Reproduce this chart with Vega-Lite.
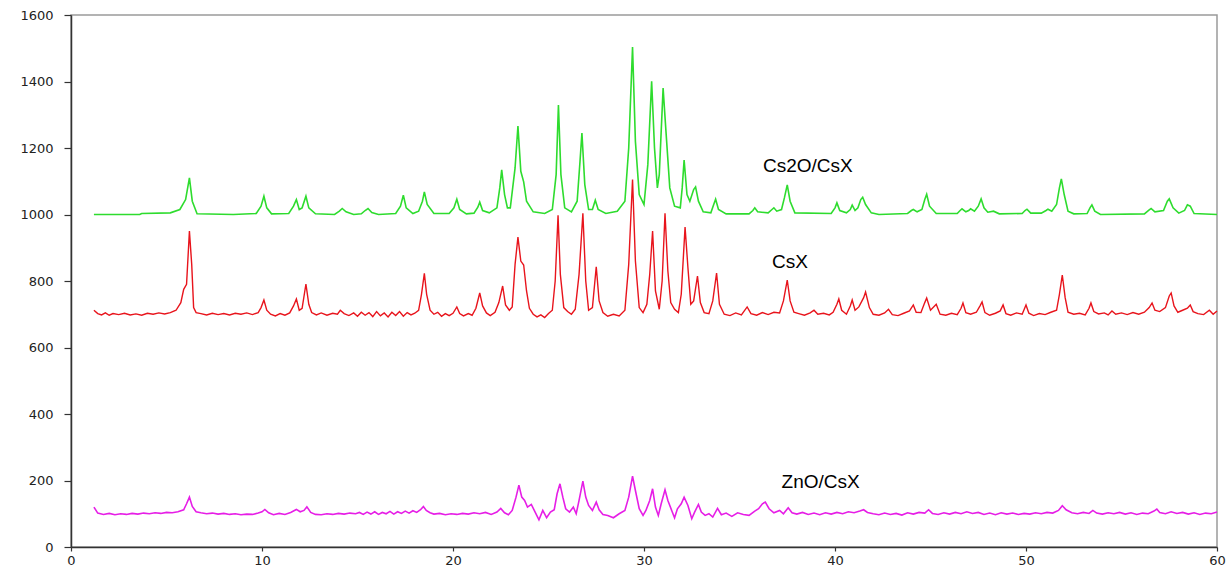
{
  "$schema": "https://vega.github.io/schema/vega-lite/v6.json",
  "width": 1146,
  "height": 532,
  "autosize": {"type": "none"},
  "padding": {"left": 71, "top": 15, "right": 14, "bottom": 22},
  "background": "white",
  "config": {
    "view": {"stroke": "#9a9a9a", "strokeWidth": 1.5},
    "axis": {
      "grid": false,
      "title": null,
      "domainColor": "#333333",
      "domainWidth": 1.5,
      "tickColor": "#333333",
      "tickWidth": 1.2,
      "labelFont": "DejaVu Sans",
      "labelFontSize": 13,
      "labelColor": "#222222",
      "labelFlush": false,
      "labelOverlap": false
    }
  },
  "datasets": {
    "green": [
      {"x":1.2,"y":1000},{"x":3.6,"y":1000},{"x":3.7,"y":1003},{"x":5.2,"y":1005},{"x":5.7,"y":1015},{"x":6.0,"y":1045},{"x":6.2,"y":1110},{"x":6.35,"y":1040},{"x":6.6,"y":1002},{"x":8.5,"y":1000},{"x":9.7,"y":1003},{"x":9.95,"y":1025},{"x":10.1,"y":1055},{"x":10.25,"y":1020},{"x":10.5,"y":1002},{"x":11.4,"y":1003},{"x":11.65,"y":1025},{"x":11.8,"y":1045},{"x":11.95,"y":1015},{"x":12.1,"y":1020},{"x":12.3,"y":1055},{"x":12.45,"y":1020},{"x":12.8,"y":1002},{"x":13.8,"y":1000},{"x":14.05,"y":1010},{"x":14.2,"y":1018},{"x":14.4,"y":1008},{"x":14.8,"y":1000},{"x":15.2,"y":1002},{"x":15.4,"y":1012},{"x":15.55,"y":1018},{"x":15.75,"y":1006},{"x":16.1,"y":1000},{"x":17.0,"y":1003},{"x":17.25,"y":1025},{"x":17.4,"y":1058},{"x":17.55,"y":1020},{"x":17.9,"y":1003},{"x":18.2,"y":1010},{"x":18.4,"y":1040},{"x":18.5,"y":1068},{"x":18.65,"y":1030},{"x":19.0,"y":1003},{"x":19.8,"y":1003},{"x":20.05,"y":1020},{"x":20.2,"y":1046},{"x":20.35,"y":1015},{"x":20.7,"y":1002},{"x":21.1,"y":1004},{"x":21.3,"y":1022},{"x":21.4,"y":1037},{"x":21.55,"y":1012},{"x":21.9,"y":1005},{"x":22.3,"y":1020},{"x":22.45,"y":1080},{"x":22.55,"y":1134},{"x":22.7,"y":1060},{"x":22.85,"y":1020},{"x":23.0,"y":1020},{"x":23.25,"y":1140},{"x":23.4,"y":1266},{"x":23.55,"y":1130},{"x":23.7,"y":1098},{"x":23.85,"y":1040},{"x":24.2,"y":1008},{"x":24.8,"y":1003},{"x":25.2,"y":1015},{"x":25.4,"y":1120},{"x":25.52,"y":1329},{"x":25.65,"y":1120},{"x":25.85,"y":1020},{"x":26.2,"y":1008},{"x":26.5,"y":1040},{"x":26.65,"y":1160},{"x":26.75,"y":1245},{"x":26.9,"y":1090},{"x":27.1,"y":1015},{"x":27.3,"y":1015},{"x":27.45,"y":1043},{"x":27.6,"y":1015},{"x":28.0,"y":1003},{"x":28.6,"y":1010},{"x":29.0,"y":1040},{"x":29.2,"y":1200},{"x":29.4,"y":1504},{"x":29.55,"y":1220},{"x":29.75,"y":1060},{"x":30.0,"y":1030},{"x":30.2,"y":1150},{"x":30.4,"y":1401},{"x":30.55,"y":1200},{"x":30.7,"y":1080},{"x":30.8,"y":1120},{"x":31.0,"y":1380},{"x":31.15,"y":1250},{"x":31.35,"y":1080},{"x":31.6,"y":1025},{"x":31.9,"y":1020},{"x":32.0,"y":1080},{"x":32.1,"y":1164},{"x":32.25,"y":1060},{"x":32.4,"y":1040},{"x":32.6,"y":1075},{"x":32.7,"y":1083},{"x":32.85,"y":1040},{"x":33.1,"y":1008},{"x":33.5,"y":1005},{"x":33.65,"y":1030},{"x":33.75,"y":1046},{"x":33.9,"y":1015},{"x":34.3,"y":1002},{"x":35.5,"y":1002},{"x":35.7,"y":1012},{"x":35.8,"y":1020},{"x":35.95,"y":1008},{"x":36.5,"y":1005},{"x":36.7,"y":1015},{"x":36.8,"y":1020},{"x":36.95,"y":1010},{"x":37.2,"y":1015},{"x":37.35,"y":1050},{"x":37.5,"y":1089},{"x":37.65,"y":1040},{"x":37.9,"y":1005},{"x":39.8,"y":1003},{"x":40.0,"y":1020},{"x":40.1,"y":1035},{"x":40.25,"y":1012},{"x":40.6,"y":1005},{"x":40.8,"y":1015},{"x":40.9,"y":1028},{"x":41.05,"y":1012},{"x":41.2,"y":1020},{"x":41.35,"y":1045},{"x":41.45,"y":1052},{"x":41.6,"y":1030},{"x":41.9,"y":1005},{"x":42.3,"y":1000},{"x":43.8,"y":1003},{"x":44.0,"y":1012},{"x":44.1,"y":1015},{"x":44.3,"y":1008},{"x":44.55,"y":1015},{"x":44.7,"y":1045},{"x":44.8,"y":1061},{"x":44.95,"y":1025},{"x":45.3,"y":1003},{"x":46.4,"y":1003},{"x":46.55,"y":1012},{"x":46.65,"y":1017},{"x":46.85,"y":1008},{"x":47.0,"y":1012},{"x":47.1,"y":1017},{"x":47.3,"y":1010},{"x":47.5,"y":1025},{"x":47.65,"y":1047},{"x":47.8,"y":1020},{"x":48.0,"y":1007},{"x":48.3,"y":1010},{"x":48.6,"y":1002},{"x":49.8,"y":1003},{"x":49.95,"y":1012},{"x":50.05,"y":1016},{"x":50.25,"y":1004},{"x":50.8,"y":1004},{"x":51.05,"y":1012},{"x":51.15,"y":1016},{"x":51.35,"y":1010},{"x":51.6,"y":1030},{"x":51.75,"y":1080},{"x":51.85,"y":1107},{"x":52.0,"y":1060},{"x":52.2,"y":1010},{"x":52.5,"y":1002},{"x":53.2,"y":1003},{"x":53.35,"y":1020},{"x":53.45,"y":1029},{"x":53.6,"y":1010},{"x":53.9,"y":1000},{"x":56.2,"y":1002},{"x":56.45,"y":1014},{"x":56.55,"y":1018},{"x":56.75,"y":1008},{"x":57.2,"y":1012},{"x":57.4,"y":1040},{"x":57.5,"y":1047},{"x":57.7,"y":1020},{"x":58.0,"y":1004},{"x":58.3,"y":1012},{"x":58.45,"y":1029},{"x":58.6,"y":1025},{"x":58.8,"y":1003},{"x":60.0,"y":1000}
    ],
    "red": [
      {"x":1.2,"y":712},{"x":1.4,"y":702},{"x":1.6,"y":698},{"x":1.8,"y":704},{"x":2.0,"y":697},{"x":2.2,"y":702},{"x":2.5,"y":699},{"x":2.8,"y":703},{"x":3.1,"y":698},{"x":3.4,"y":701},{"x":3.7,"y":697},{"x":4.0,"y":703},{"x":4.3,"y":700},{"x":4.6,"y":704},{"x":4.9,"y":701},{"x":5.2,"y":705},{"x":5.5,"y":712},{"x":5.75,"y":735},{"x":5.9,"y":775},{"x":6.05,"y":790},{"x":6.2,"y":950},{"x":6.32,"y":850},{"x":6.42,"y":720},{"x":6.55,"y":705},{"x":6.8,"y":702},{"x":7.1,"y":698},{"x":7.4,"y":703},{"x":7.7,"y":699},{"x":8.0,"y":702},{"x":8.3,"y":698},{"x":8.6,"y":703},{"x":8.9,"y":700},{"x":9.2,"y":704},{"x":9.5,"y":699},{"x":9.8,"y":705},{"x":9.95,"y":720},{"x":10.1,"y":743},{"x":10.25,"y":712},{"x":10.45,"y":700},{"x":10.7,"y":695},{"x":10.95,"y":702},{"x":11.2,"y":697},{"x":11.45,"y":704},{"x":11.65,"y":725},{"x":11.8,"y":746},{"x":11.95,"y":712},{"x":12.1,"y":718},{"x":12.3,"y":791},{"x":12.45,"y":730},{"x":12.6,"y":705},{"x":12.85,"y":698},{"x":13.1,"y":704},{"x":13.4,"y":697},{"x":13.7,"y":703},{"x":13.95,"y":700},{"x":14.1,"y":712},{"x":14.3,"y":702},{"x":14.55,"y":696},{"x":14.8,"y":704},{"x":15.0,"y":694},{"x":15.2,"y":706},{"x":15.4,"y":697},{"x":15.6,"y":705},{"x":15.8,"y":693},{"x":16.0,"y":708},{"x":16.2,"y":695},{"x":16.4,"y":704},{"x":16.6,"y":692},{"x":16.8,"y":706},{"x":17.0,"y":696},{"x":17.2,"y":708},{"x":17.4,"y":694},{"x":17.6,"y":705},{"x":17.8,"y":698},{"x":18.0,"y":703},{"x":18.2,"y":712},{"x":18.35,"y":760},{"x":18.5,"y":823},{"x":18.62,"y":760},{"x":18.8,"y":712},{"x":19.0,"y":700},{"x":19.2,"y":706},{"x":19.4,"y":694},{"x":19.6,"y":702},{"x":19.8,"y":696},{"x":20.0,"y":703},{"x":20.2,"y":722},{"x":20.35,"y":702},{"x":20.55,"y":695},{"x":20.8,"y":702},{"x":21.0,"y":697},{"x":21.2,"y":718},{"x":21.4,"y":764},{"x":21.55,"y":725},{"x":21.75,"y":704},{"x":21.95,"y":696},{"x":22.2,"y":706},{"x":22.4,"y":735},{"x":22.6,"y":785},{"x":22.75,"y":728},{"x":22.95,"y":712},{"x":23.1,"y":722},{"x":23.25,"y":850},{"x":23.4,"y":932},{"x":23.55,"y":860},{"x":23.7,"y":848},{"x":23.85,"y":770},{"x":24.0,"y":718},{"x":24.2,"y":700},{"x":24.4,"y":692},{"x":24.6,"y":698},{"x":24.8,"y":690},{"x":25.0,"y":702},{"x":25.2,"y":712},{"x":25.35,"y":800},{"x":25.5,"y":998},{"x":25.62,"y":820},{"x":25.8,"y":720},{"x":26.0,"y":708},{"x":26.2,"y":700},{"x":26.4,"y":715},{"x":26.6,"y":820},{"x":26.8,"y":1004},{"x":26.95,"y":800},{"x":27.1,"y":712},{"x":27.3,"y":720},{"x":27.5,"y":843},{"x":27.65,"y":740},{"x":27.85,"y":705},{"x":28.1,"y":694},{"x":28.4,"y":700},{"x":28.7,"y":695},{"x":29.0,"y":712},{"x":29.2,"y":850},{"x":29.4,"y":1105},{"x":29.55,"y":860},{"x":29.75,"y":720},{"x":29.95,"y":705},{"x":30.15,"y":730},{"x":30.3,"y":820},{"x":30.45,"y":950},{"x":30.6,"y":770},{"x":30.8,"y":715},{"x":30.95,"y":800},{"x":31.1,"y":1004},{"x":31.25,"y":830},{"x":31.4,"y":735},{"x":31.6,"y":715},{"x":31.8,"y":705},{"x":31.95,"y":760},{"x":32.15,"y":962},{"x":32.3,"y":840},{"x":32.45,"y":730},{"x":32.6,"y":740},{"x":32.8,"y":815},{"x":32.95,"y":735},{"x":33.15,"y":705},{"x":33.4,"y":702},{"x":33.6,"y":740},{"x":33.8,"y":824},{"x":33.95,"y":730},{"x":34.2,"y":700},{"x":34.5,"y":696},{"x":34.8,"y":704},{"x":35.1,"y":698},{"x":35.4,"y":722},{"x":35.6,"y":702},{"x":35.9,"y":697},{"x":36.2,"y":705},{"x":36.5,"y":699},{"x":36.8,"y":706},{"x":37.1,"y":704},{"x":37.3,"y":740},{"x":37.5,"y":803},{"x":37.65,"y":740},{"x":37.85,"y":706},{"x":38.1,"y":702},{"x":38.4,"y":697},{"x":38.7,"y":704},{"x":38.9,"y":712},{"x":39.1,"y":700},{"x":39.4,"y":703},{"x":39.7,"y":698},{"x":39.9,"y":706},{"x":40.1,"y":730},{"x":40.2,"y":746},{"x":40.35,"y":712},{"x":40.6,"y":700},{"x":40.8,"y":725},{"x":40.9,"y":743},{"x":41.05,"y":712},{"x":41.25,"y":722},{"x":41.5,"y":750},{"x":41.6,"y":767},{"x":41.8,"y":720},{"x":42.0,"y":700},{"x":42.3,"y":697},{"x":42.6,"y":704},{"x":42.8,"y":715},{"x":43.0,"y":699},{"x":43.3,"y":696},{"x":43.6,"y":703},{"x":43.9,"y":710},{"x":44.1,"y":728},{"x":44.25,"y":706},{"x":44.5,"y":705},{"x":44.7,"y":735},{"x":44.8,"y":749},{"x":45.0,"y":712},{"x":45.3,"y":730},{"x":45.5,"y":700},{"x":45.8,"y":697},{"x":46.1,"y":703},{"x":46.4,"y":699},{"x":46.6,"y":718},{"x":46.7,"y":734},{"x":46.85,"y":705},{"x":47.1,"y":700},{"x":47.4,"y":706},{"x":47.6,"y":726},{"x":47.7,"y":737},{"x":47.85,"y":705},{"x":48.1,"y":697},{"x":48.4,"y":703},{"x":48.65,"y":710},{"x":48.8,"y":728},{"x":48.95,"y":702},{"x":49.2,"y":697},{"x":49.5,"y":704},{"x":49.8,"y":700},{"x":50.0,"y":728},{"x":50.15,"y":703},{"x":50.4,"y":696},{"x":50.7,"y":702},{"x":51.0,"y":699},{"x":51.3,"y":706},{"x":51.6,"y":712},{"x":51.75,"y":760},{"x":51.9,"y":818},{"x":52.05,"y":750},{"x":52.2,"y":706},{"x":52.5,"y":700},{"x":52.8,"y":703},{"x":53.1,"y":698},{"x":53.3,"y":718},{"x":53.4,"y":734},{"x":53.55,"y":708},{"x":53.8,"y":701},{"x":54.1,"y":704},{"x":54.3,"y":698},{"x":54.5,"y":710},{"x":54.7,"y":700},{"x":55.0,"y":704},{"x":55.3,"y":699},{"x":55.6,"y":705},{"x":55.9,"y":700},{"x":56.2,"y":706},{"x":56.45,"y":720},{"x":56.6,"y":734},{"x":56.75,"y":712},{"x":57.0,"y":708},{"x":57.3,"y":720},{"x":57.5,"y":755},{"x":57.6,"y":764},{"x":57.75,"y":725},{"x":57.95,"y":706},{"x":58.2,"y":712},{"x":58.45,"y":718},{"x":58.6,"y":728},{"x":58.75,"y":708},{"x":59.0,"y":702},{"x":59.3,"y":699},{"x":59.6,"y":712},{"x":59.8,"y":700},{"x":60.0,"y":710}
    ],
    "magenta": [
      {"x":1.2,"y":120},{"x":1.4,"y":102},{"x":1.7,"y":98},{"x":2.0,"y":101},{"x":2.3,"y":97},{"x":2.6,"y":100},{"x":2.9,"y":98},{"x":3.2,"y":101},{"x":3.5,"y":99},{"x":3.8,"y":102},{"x":4.1,"y":100},{"x":4.4,"y":103},{"x":4.7,"y":101},{"x":5.0,"y":104},{"x":5.3,"y":103},{"x":5.6,"y":106},{"x":5.9,"y":112},{"x":6.05,"y":130},{"x":6.2,"y":150},{"x":6.35,"y":122},{"x":6.55,"y":106},{"x":6.8,"y":103},{"x":7.1,"y":100},{"x":7.4,"y":102},{"x":7.7,"y":99},{"x":8.0,"y":101},{"x":8.3,"y":98},{"x":8.6,"y":100},{"x":8.9,"y":97},{"x":9.2,"y":99},{"x":9.5,"y":98},{"x":9.8,"y":102},{"x":10.0,"y":106},{"x":10.15,"y":113},{"x":10.35,"y":103},{"x":10.6,"y":97},{"x":10.9,"y":101},{"x":11.2,"y":98},{"x":11.5,"y":104},{"x":11.8,"y":113},{"x":12.0,"y":106},{"x":12.2,"y":110},{"x":12.35,"y":121},{"x":12.55,"y":104},{"x":12.8,"y":98},{"x":13.1,"y":97},{"x":13.4,"y":100},{"x":13.7,"y":98},{"x":14.0,"y":101},{"x":14.3,"y":99},{"x":14.6,"y":102},{"x":14.9,"y":100},{"x":15.1,"y":104},{"x":15.3,"y":98},{"x":15.5,"y":105},{"x":15.7,"y":99},{"x":15.9,"y":106},{"x":16.1,"y":98},{"x":16.3,"y":104},{"x":16.5,"y":100},{"x":16.7,"y":107},{"x":16.9,"y":99},{"x":17.1,"y":106},{"x":17.3,"y":101},{"x":17.5,"y":108},{"x":17.7,"y":102},{"x":17.9,"y":109},{"x":18.1,"y":104},{"x":18.3,"y":112},{"x":18.45,"y":122},{"x":18.6,"y":110},{"x":18.8,"y":103},{"x":19.0,"y":99},{"x":19.3,"y":101},{"x":19.6,"y":97},{"x":19.9,"y":100},{"x":20.2,"y":98},{"x":20.5,"y":101},{"x":20.8,"y":99},{"x":21.1,"y":103},{"x":21.4,"y":100},{"x":21.7,"y":104},{"x":22.0,"y":98},{"x":22.3,"y":105},{"x":22.5,"y":116},{"x":22.7,"y":103},{"x":22.9,"y":97},{"x":23.1,"y":110},{"x":23.3,"y":150},{"x":23.45,"y":186},{"x":23.6,"y":150},{"x":23.75,"y":140},{"x":23.9,"y":120},{"x":24.1,"y":128},{"x":24.3,"y":105},{"x":24.5,"y":82},{"x":24.7,"y":110},{"x":24.9,"y":88},{"x":25.1,"y":105},{"x":25.3,"y":112},{"x":25.45,"y":160},{"x":25.6,"y":190},{"x":25.75,"y":150},{"x":25.9,"y":115},{"x":26.1,"y":105},{"x":26.3,"y":120},{"x":26.45,"y":100},{"x":26.6,"y":140},{"x":26.8,"y":198},{"x":26.95,"y":150},{"x":27.1,"y":125},{"x":27.3,"y":110},{"x":27.5,"y":135},{"x":27.65,"y":112},{"x":27.85,"y":98},{"x":28.1,"y":95},{"x":28.4,"y":88},{"x":28.7,"y":100},{"x":29.0,"y":110},{"x":29.2,"y":150},{"x":29.4,"y":213},{"x":29.55,"y":170},{"x":29.75,"y":115},{"x":29.95,"y":95},{"x":30.1,"y":110},{"x":30.3,"y":140},{"x":30.45,"y":175},{"x":30.6,"y":120},{"x":30.75,"y":95},{"x":30.9,"y":130},{"x":31.1,"y":172},{"x":31.25,"y":140},{"x":31.45,"y":110},{"x":31.6,"y":88},{"x":31.75,"y":115},{"x":31.95,"y":130},{"x":32.1,"y":150},{"x":32.3,"y":125},{"x":32.5,"y":85},{"x":32.65,"y":105},{"x":32.85,"y":128},{"x":33.0,"y":105},{"x":33.2,"y":95},{"x":33.4,"y":100},{"x":33.6,"y":90},{"x":33.85,"y":116},{"x":34.05,"y":97},{"x":34.3,"y":102},{"x":34.6,"y":92},{"x":34.9,"y":103},{"x":35.2,"y":98},{"x":35.5,"y":95},{"x":35.8,"y":108},{"x":36.0,"y":115},{"x":36.2,"y":130},{"x":36.35,"y":135},{"x":36.55,"y":115},{"x":36.8,"y":103},{"x":37.1,"y":110},{"x":37.3,"y":100},{"x":37.55,"y":118},{"x":37.75,"y":103},{"x":38.0,"y":99},{"x":38.3,"y":104},{"x":38.6,"y":98},{"x":38.9,"y":102},{"x":39.2,"y":97},{"x":39.5,"y":103},{"x":39.8,"y":99},{"x":40.1,"y":104},{"x":40.4,"y":100},{"x":40.7,"y":106},{"x":41.0,"y":103},{"x":41.3,"y":108},{"x":41.5,"y":112},{"x":41.7,"y":104},{"x":42.0,"y":100},{"x":42.3,"y":97},{"x":42.6,"y":102},{"x":42.9,"y":98},{"x":43.2,"y":101},{"x":43.5,"y":96},{"x":43.8,"y":103},{"x":44.1,"y":99},{"x":44.4,"y":104},{"x":44.7,"y":102},{"x":44.9,"y":112},{"x":45.1,"y":101},{"x":45.4,"y":98},{"x":45.7,"y":103},{"x":46.0,"y":99},{"x":46.3,"y":104},{"x":46.6,"y":100},{"x":46.9,"y":106},{"x":47.2,"y":101},{"x":47.5,"y":104},{"x":47.8,"y":98},{"x":48.1,"y":102},{"x":48.4,"y":97},{"x":48.7,"y":103},{"x":49.0,"y":99},{"x":49.3,"y":102},{"x":49.6,"y":98},{"x":49.9,"y":101},{"x":50.2,"y":99},{"x":50.5,"y":103},{"x":50.8,"y":100},{"x":51.1,"y":104},{"x":51.4,"y":102},{"x":51.7,"y":110},{"x":51.9,"y":124},{"x":52.1,"y":112},{"x":52.4,"y":103},{"x":52.7,"y":100},{"x":53.0,"y":104},{"x":53.3,"y":101},{"x":53.5,"y":110},{"x":53.7,"y":102},{"x":54.0,"y":99},{"x":54.3,"y":103},{"x":54.6,"y":100},{"x":54.9,"y":104},{"x":55.2,"y":99},{"x":55.5,"y":103},{"x":55.8,"y":98},{"x":56.1,"y":102},{"x":56.4,"y":100},{"x":56.7,"y":108},{"x":56.85,"y":114},{"x":57.0,"y":104},{"x":57.3,"y":100},{"x":57.6,"y":106},{"x":57.9,"y":101},{"x":58.2,"y":104},{"x":58.5,"y":99},{"x":58.8,"y":103},{"x":59.1,"y":98},{"x":59.4,"y":102},{"x":59.7,"y":100},{"x":60.0,"y":105}
    ],
    "labels": [
      {"x":36.23,"y":1128,"t":"Cs2O/CsX"},
      {"x":36.7,"y":839,"t":"CsX"},
      {"x":37.2,"y":177,"t":"ZnO/CsX"}
    ]
  },
  "layer": [
    {
      "data": {"name": "green"},
      "mark": {"type": "line", "color": "#2edc2e", "strokeWidth": 1.6},
      "encoding": {
        "x": {"field": "x", "type": "quantitative", "scale": {"domain": [0, 60], "nice": false}, "axis": {"values": [0,10,20,30,40,50,60], "format": "d", "tickSize": 4, "labelPadding": 3}},
        "y": {"field": "y", "type": "quantitative", "scale": {"domain": [0, 1600], "nice": false}, "axis": {"values": [0,200,400,600,800,1000,1200,1400,1600], "format": "d", "tickSize": 7, "labelPadding": 11}}
      }
    },
    {
      "data": {"name": "red"},
      "mark": {"type": "line", "color": "#e8141c", "strokeWidth": 1.4},
      "encoding": {
        "x": {"field": "x", "type": "quantitative"},
        "y": {"field": "y", "type": "quantitative"}
      }
    },
    {
      "data": {"name": "magenta"},
      "mark": {"type": "line", "color": "#e61ee6", "strokeWidth": 1.6},
      "encoding": {
        "x": {"field": "x", "type": "quantitative"},
        "y": {"field": "y", "type": "quantitative"}
      }
    },
    {
      "data": {"name": "labels"},
      "mark": {"type": "text", "align": "left", "baseline": "alphabetic", "font": "Liberation Sans", "fontSize": 19, "color": "#000000"},
      "encoding": {
        "x": {"field": "x", "type": "quantitative"},
        "y": {"field": "y", "type": "quantitative"},
        "text": {"field": "t"}
      }
    }
  ]
}
